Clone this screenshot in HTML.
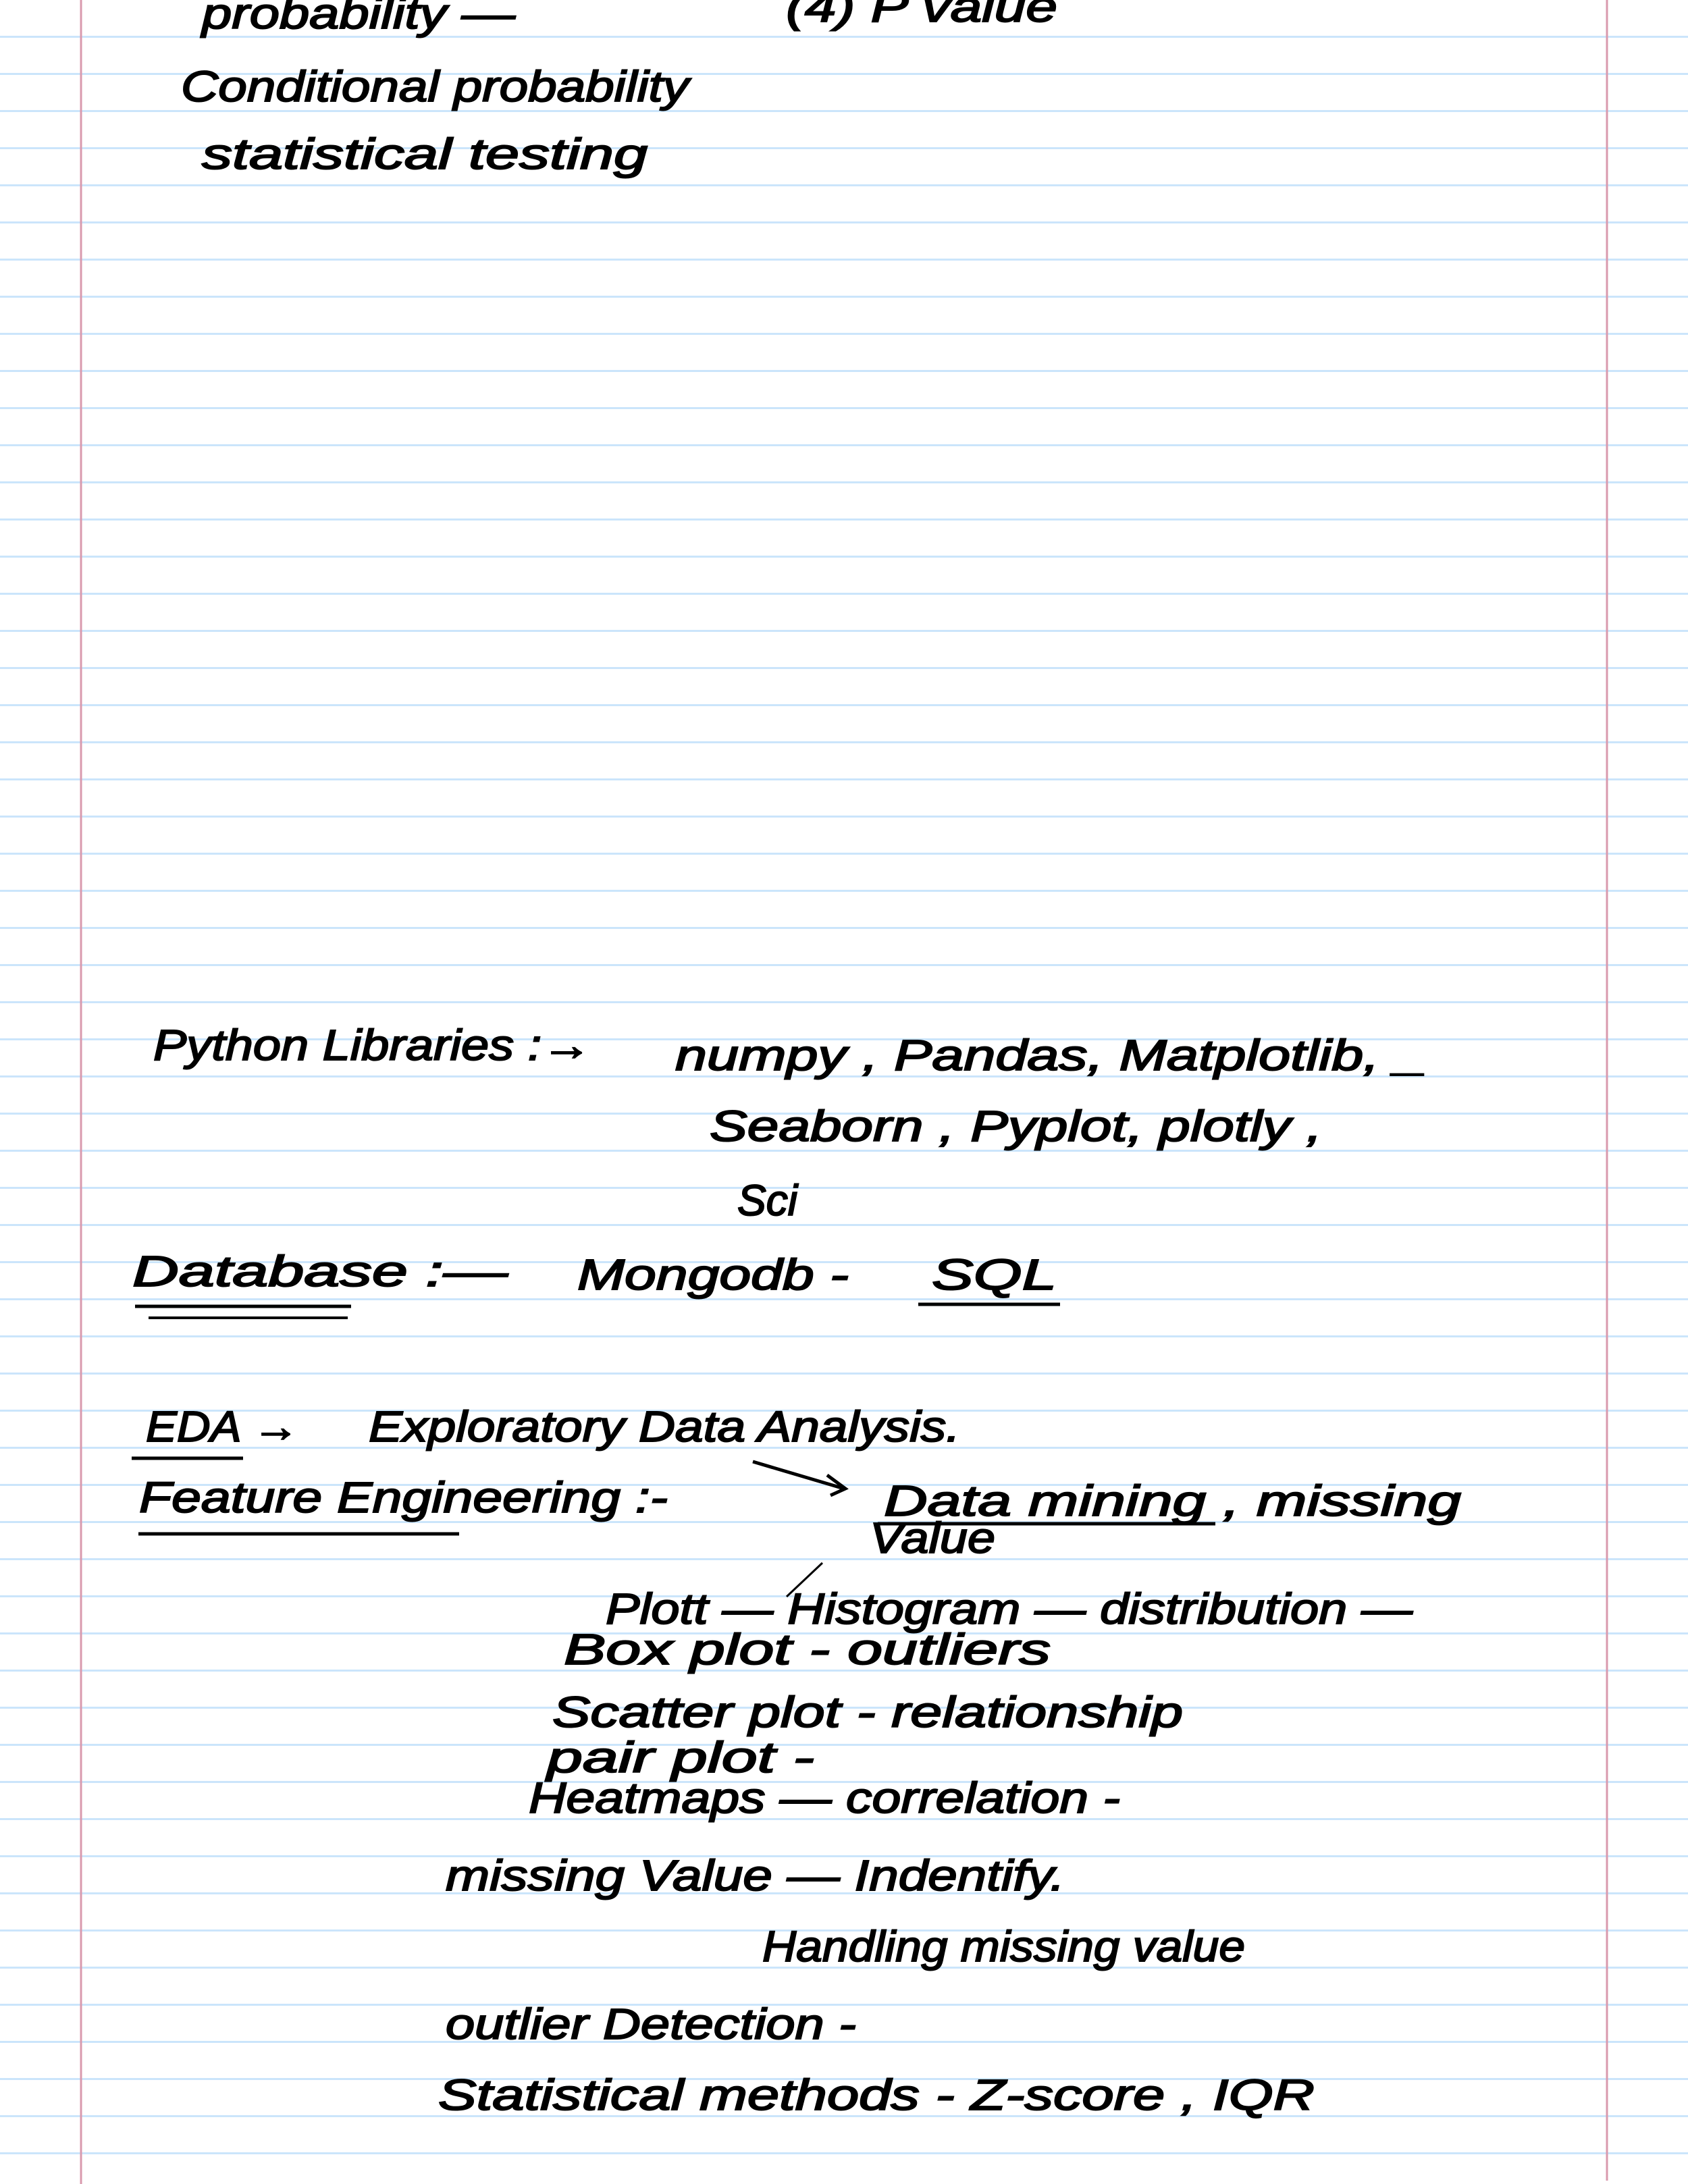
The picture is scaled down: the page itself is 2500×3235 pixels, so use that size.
<!DOCTYPE html>
<html><head><meta charset="utf-8"><style>
html,body{margin:0;padding:0;background:#fff;}
svg{display:block}
text{font-family:"Liberation Sans",sans-serif;font-style:italic;fill:#000;stroke:#000;stroke-width:2;font-size:64px;}
</style></head><body>
<svg width="2500" height="3235" viewBox="0 0 2500 3235" xmlns="http://www.w3.org/2000/svg">
<rect width="2500" height="3235" fill="#fff"/>
<path d="M0 54.5H2500M0 109.5H2500M0 164.5H2500M0 219.5H2500M0 274.5H2500M0 329.5H2500M0 384.5H2500M0 439.5H2500M0 494.5H2500M0 549.5H2500M0 604.5H2500M0 659.5H2500M0 714.5H2500M0 769.5H2500M0 824.5H2500M0 879.5H2500M0 934.5H2500M0 989.5H2500M0 1044.5H2500M0 1099.5H2500M0 1154.5H2500M0 1209.5H2500M0 1264.5H2500M0 1319.5H2500M0 1374.5H2500M0 1429.5H2500M0 1484.5H2500M0 1539.5H2500M0 1594.5H2500M0 1649.5H2500M0 1704.5H2500M0 1759.5H2500M0 1814.5H2500M0 1869.5H2500M0 1924.5H2500M0 1979.5H2500M0 2034.5H2500M0 2089.5H2500M0 2144.5H2500M0 2199.5H2500M0 2254.5H2500M0 2309.5H2500M0 2364.5H2500M0 2419.5H2500M0 2474.5H2500M0 2529.5H2500M0 2584.5H2500M0 2639.5H2500M0 2694.5H2500M0 2749.5H2500M0 2804.5H2500M0 2859.5H2500M0 2914.5H2500M0 2969.5H2500M0 3024.5H2500M0 3079.5H2500M0 3134.5H2500M0 3189.5H2500" stroke="#cbe5fb" stroke-width="3" fill="none"/>
<line x1="120" y1="0" x2="120" y2="3235" stroke="#d99aae" stroke-width="3"/>
<line x1="2380" y1="0" x2="2380" y2="3230" stroke="#d99aae" stroke-width="3"/>

<text x="299" y="42" textLength="464" lengthAdjust="spacingAndGlyphs">probability —</text>
<text x="268" y="150" textLength="752" lengthAdjust="spacingAndGlyphs">Conditional probability</text>
<text x="299" y="250" textLength="660" lengthAdjust="spacingAndGlyphs">statistical testing</text>
<text x="1164" y="32" textLength="402" lengthAdjust="spacingAndGlyphs">(4) P value</text>

<text x="227" y="1570" textLength="649" lengthAdjust="spacingAndGlyphs">Python Libraries :→</text>
<text x="1000" y="1585" textLength="1113" lengthAdjust="spacingAndGlyphs">numpy , Pandas, Matplotlib, _</text>
<text x="1051" y="1690" textLength="907" lengthAdjust="spacingAndGlyphs">Seaborn , Pyplot, plotly ,</text>
<text x="1092" y="1800" font-size="48">Sci</text>

<text x="196" y="1905" textLength="556" lengthAdjust="spacingAndGlyphs">Database :—</text>
<line x1="200" y1="1935" x2="520" y2="1935" stroke="#000" stroke-width="5"/>
<line x1="220" y1="1952" x2="515" y2="1952" stroke="#000" stroke-width="4"/>
<text x="855" y="1910" textLength="402" lengthAdjust="spacingAndGlyphs">Mongodb -</text>
<text x="1380" y="1910" textLength="185" lengthAdjust="spacingAndGlyphs">SQL</text>
<line x1="1360" y1="1932" x2="1570" y2="1932" stroke="#000" stroke-width="5"/>

<text x="216" y="2135" textLength="227" lengthAdjust="spacingAndGlyphs">EDA →</text>
<line x1="195" y1="2160" x2="360" y2="2160" stroke="#000" stroke-width="5"/>
<text x="546" y="2135" textLength="876" lengthAdjust="spacingAndGlyphs">Exploratory Data Analysis.</text>
<text x="206" y="2240" textLength="783" lengthAdjust="spacingAndGlyphs">Feature Engineering :-</text>
<line x1="205" y1="2272" x2="680" y2="2272" stroke="#000" stroke-width="5"/>
<path d="M1115 2165 L1250 2205 M1225 2185 L1252 2205 L1230 2215" stroke="#000" stroke-width="5" fill="none"/>
<text x="1309" y="2245" textLength="855" lengthAdjust="spacingAndGlyphs">Data mining , missing</text>
<line x1="1300" y1="2257" x2="1800" y2="2257" stroke="#000" stroke-width="5"/>
<text x="1288" y="2300" textLength="186" lengthAdjust="spacingAndGlyphs">Value</text>
<path d="M1218 2315 L1165 2365" stroke="#000" stroke-width="3" fill="none"/>

<text x="897" y="2405" textLength="1195" lengthAdjust="spacingAndGlyphs">Plott — Histogram — distribution —</text>
<text x="835" y="2465" textLength="721" lengthAdjust="spacingAndGlyphs">Box plot - outliers</text>
<text x="818" y="2558" textLength="934" lengthAdjust="spacingAndGlyphs">Scatter plot - relationship</text>
<text x="810" y="2625" textLength="396" lengthAdjust="spacingAndGlyphs">pair plot -</text>
<text x="783" y="2685" textLength="876" lengthAdjust="spacingAndGlyphs">Heatmaps — correlation -</text>
<text x="660" y="2800" textLength="917" lengthAdjust="spacingAndGlyphs">missing Value — Indentify.</text>
<text x="1129" y="2905" textLength="715" lengthAdjust="spacingAndGlyphs">Handling missing value</text>
<text x="660" y="3020" textLength="608" lengthAdjust="spacingAndGlyphs">outlier Detection -</text>
<text x="649" y="3125" textLength="1298" lengthAdjust="spacingAndGlyphs">Statistical methods - Z-score , IQR</text>
</svg>
</body></html>
